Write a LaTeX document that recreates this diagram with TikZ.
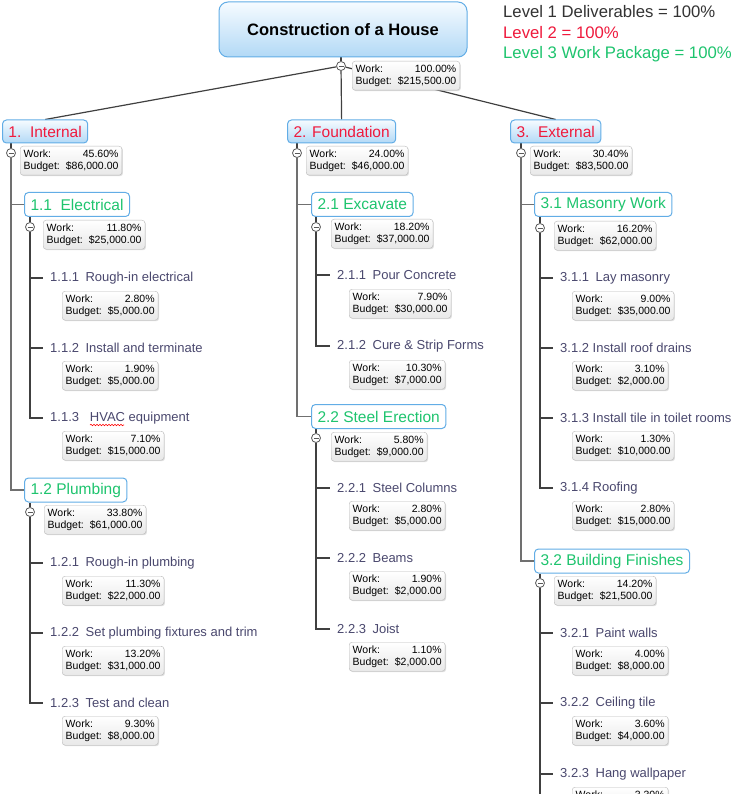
\documentclass[tikz,border=0pt]{standalone}
\usepackage{fontspec}
\setmainfont{Liberation Sans}
\usetikzlibrary{positioning,shadows,backgrounds,decorations.pathmorphing}
\definecolor{boxblue}{HTML}{62ADE6}
\definecolor{skytop}{HTML}{F6FBFF}
\definecolor{skyfill}{HTML}{B2D9F6}
\definecolor{lvlred}{HTML}{EF1A3D}
\definecolor{lvlgreen}{HTML}{1EC46E}
\definecolor{leafgray}{HTML}{4A486E}
\definecolor{linegray}{HTML}{707070}
\newcommand{\wb}[2]{\begin{tabular}{@{}l@{\hspace{6pt}}r@{}}Work: & #1\\Budget: & #2\end{tabular}}

\begin{document}
\begin{tikzpicture}[x=1pt,y=-1pt,
	root node/.style={draw=boxblue,line width=1pt,rounded corners=9pt,top color=skytop,bottom color=skyfill,font=\bfseries\fontsize{16.5}{19}\selectfont},
	level one/.style={draw=boxblue,line width=1pt,rounded corners=4pt,top color=skytop,bottom color=skyfill,text=lvlred,font=\fontsize{15.5}{18}\selectfont,minimum height=23pt,inner xsep=6pt,anchor=west},
	level two/.style={draw=boxblue,line width=1pt,rounded corners=4pt,fill=white,text=lvlgreen,font=\fontsize{15.5}{18}\selectfont,minimum height=24pt,inner xsep=6pt,anchor=west},
	leaf/.style={text=leafgray,font=\fontsize{13}{15}\selectfont,inner xsep=7pt,inner ysep=1pt,anchor=west},
	legend/.style={font=\fontsize{16.7}{20}\selectfont,anchor=west,inner sep=0pt},
	info/.style={draw=gray!55,rounded corners=3pt,top color=white,bottom color=gray!18,font=\fontsize{10.5}{12}\selectfont,inner xsep=3.5pt,inner ysep=2.5pt,anchor=north west,drop shadow={shadow xshift=1pt,shadow yshift=-1pt,opacity=.25}},
	toggle/.style={circle,draw=gray!70!black,fill=white,line width=0.8pt,minimum size=9pt,inner sep=0pt,path picture={\draw[line width=0.8pt] ([xshift=-2.5pt]path picture bounding box.center) -- ([xshift=2.5pt]path picture bounding box.center);}},
	spoke/.style={draw=black!75,line width=1.2pt},
	trunk/.style={draw=linegray,line width=1.8pt},
	branch/.style={draw=black!75,line width=1.5pt}]

	\useasboundingbox (0,0) rectangle (739,794);
	\clip (0,0) rectangle (739,794);

	% root and legend
	\node[root node,minimum width=248pt,minimum height=55pt] (house) at (343,29.5) {Construction of a House};
	\node[legend,text=black!80] (lg1) at (503,12) {Level 1 Deliverables = 100\%};
	\node[legend,text=lvlred] (lg2) at (503,33) {Level 2 = 100\%};
	\node[legend,text=lvlgreen] (lg3) at (503,54) {Level 3 Work Package = 100\%};
	\node[toggle] (c0) at (341,66) {};
	\node[info] (i0) at ([shift={(11,-5)}]c0) {\wb{100.00\%}{\$215,500.00}};

	% level 1
	\node[level one] (int) at (2,131.5) {1.\ \ Internal};
	\node[level one] (fnd) at (287,131.5) {2. Foundation};
	\node[level one] (ext) at (510,131.5) {3.\ \ External};
	\node[toggle] (c1) at (11,153) {};
	\node[toggle] (c2) at (297,153) {};
	\node[toggle] (c3) at (521,153) {};
	\node[info] (i1) at ([shift={(9,-7)}]c1) {\wb{45.60\%}{\$86,000.00}};
	\node[info] (i2) at ([shift={(9,-7)}]c2) {\wb{24.00\%}{\$46,000.00}};
	\node[info] (i3) at ([shift={(9,-7)}]c3) {\wb{30.40\%}{\$83,500.00}};

	% level 2
	\node[level two] (ele) at (24,204.5) {1.1\ \ Electrical};
	\node[level two] (plu) at (24,490) {1.2 Plumbing};
	\node[level two] (exc) at (311,204.5) {2.1 Excavate};
	\node[level two] (ste) at (311,416.5) {2.2 Steel Erection};
	\node[level two] (mas) at (534,204.5) {3.1 Masonry Work};
	\node[level two] (fin) at (534,561) {3.2 Building Finishes};
	\node[toggle] (c11) at (30,227) {};
	\node[toggle] (c12) at (30,512) {};
	\node[toggle] (c21) at (316,227) {};
	\node[toggle] (c22) at (316,438) {};
	\node[toggle] (c31) at (540,228) {};
	\node[toggle] (c32) at (540,583) {};
	\node[info] (i11) at ([shift={(13,-7)}]c11) {\wb{11.80\%}{\$25,000.00}};
	\node[info] (i12) at ([shift={(14,-7)}]c12) {\wb{33.80\%}{\$61,000.00}};
	\node[info] (i21) at ([shift={(15,-8)}]c21) {\wb{18.20\%}{\$37,000.00}};
	\node[info] (i22) at ([shift={(15,-6)}]c22) {\wb{5.80\%}{\$9,000.00}};
	\node[info] (i31) at ([shift={(14,-7)}]c31) {\wb{16.20\%}{\$62,000.00}};
	\node[info] (i32) at ([shift={(14,-7)}]c32) {\wb{14.20\%}{\$21,500.00}};

	% work packages
	\node[leaf] (l111) at (43,278) {1.1.1\enspace Rough-in electrical};
	\node[leaf] (l112) at (43,348) {1.1.2\enspace Install and terminate};
	\node[leaf] (l113) at (43,418) {1.1.3\ \ \ HVAC equipment};
	\node[leaf] (l121) at (43,563) {1.2.1\enspace Rough-in plumbing};
	\node[leaf] (l122) at (43,633) {1.2.2\enspace Set plumbing fixtures and trim};
	\node[leaf] (l123) at (43,703) {1.2.3\enspace Test and clean};
	\node[leaf] (l211) at (330,275) {2.1.1\enspace Pour Concrete};
	\node[leaf] (l212) at (330,346) {2.1.2\enspace Cure \& Strip Forms};
	\node[leaf] (l221) at (330,488) {2.2.1\enspace Steel Columns};
	\node[leaf] (l222) at (330,558) {2.2.2\enspace Beams};
	\node[leaf] (l223) at (330,629) {2.2.3\enspace Joist};
	\node[leaf] (l311) at (553,278) {3.1.1\enspace Lay masonry};
	\node[leaf] (l312) at (553,348) {3.1.2 Install roof drains};
	\node[leaf] (l313) at (553,418) {3.1.3 Install tile in toilet rooms};
	\node[leaf] (l314) at (553,488) {3.1.4 Roofing};
	\node[leaf] (l321) at (553,633) {3.2.1\enspace Paint walls};
	\node[leaf] (l322) at (553,703) {3.2.2\enspace Ceiling tile};
	\node[leaf] (l323) at (553,774) {3.2.3\enspace Hang wallpaper};

	\node[info] (i111) at ([shift={(19,13)}]l111.west) {\wb{2.80\%}{\$5,000.00}};
	\node[info] (i112) at ([shift={(19,13)}]l112.west) {\wb{1.90\%}{\$5,000.00}};
	\node[info] (i113) at ([shift={(19,13)}]l113.west) {\wb{7.10\%}{\$15,000.00}};
	\node[info] (i121) at ([shift={(19,13)}]l121.west) {\wb{11.30\%}{\$22,000.00}};
	\node[info] (i122) at ([shift={(19,13)}]l122.west) {\wb{13.20\%}{\$31,000.00}};
	\node[info] (i123) at ([shift={(19,13)}]l123.west) {\wb{9.30\%}{\$8,000.00}};
	\node[info] (i211) at ([shift={(19,14)}]l211.west) {\wb{7.90\%}{\$30,000.00}};
	\node[info] (i212) at ([shift={(19,14)}]l212.west) {\wb{10.30\%}{\$7,000.00}};
	\node[info] (i221) at ([shift={(19,13)}]l221.west) {\wb{2.80\%}{\$5,000.00}};
	\node[info] (i222) at ([shift={(19,13)}]l222.west) {\wb{1.90\%}{\$2,000.00}};
	\node[info] (i223) at ([shift={(19,13)}]l223.west) {\wb{1.10\%}{\$2,000.00}};
	\node[info] (i311) at ([shift={(19,13)}]l311.west) {\wb{9.00\%}{\$35,000.00}};
	\node[info] (i312) at ([shift={(19,13)}]l312.west) {\wb{3.10\%}{\$2,000.00}};
	\node[info] (i313) at ([shift={(19,13)}]l313.west) {\wb{1.30\%}{\$10,000.00}};
	\node[info] (i314) at ([shift={(19,13)}]l314.west) {\wb{2.80\%}{\$15,000.00}};
	\node[info] (i321) at ([shift={(19,13)}]l321.west) {\wb{4.00\%}{\$8,000.00}};
	\node[info] (i322) at ([shift={(19,13)}]l322.west) {\wb{3.60\%}{\$4,000.00}};
	\node[info] (i323) at ([shift={(19,13)}]l323.west) {\wb{3.30\%}{\$6,500.00}};
	\coordinate (tail) at (540,800);

	% spell-check mark under HVAC
	\draw[red,line width=0.6pt,decorate,decoration={snake,amplitude=0.7pt,segment length=3pt}] ([shift={(47,7)}]l113.west) -- ([shift={(81,7)}]l113.west);

	% connectors, behind the boxes
	\begin{scope}[on background layer]
	\fill[white] (0,0) rectangle (739,794);
	\draw[spoke] (house.south -| c0) -- (c0);
	\draw[spoke] (c0) -- (int.north);
	\draw[spoke] (c0) -- (fnd.north);
	\draw[spoke] (c0) -- (ext.north);
	\draw[spoke] (int.south -| c1) -- (c1);
	\draw[spoke] (fnd.south -| c2) -- (c2);
	\draw[spoke] (ext.south -| c3) -- (c3);
	\draw[trunk] (c1) |- (ele.west);
	\draw[trunk] (c1) |- (plu.west);
	\draw[trunk] (c2) |- (exc.west);
	\draw[trunk] (c2) |- (ste.west);
	\draw[trunk] (c3) |- (mas.west);
	\draw[trunk] (c3) |- (fin.west);
	\draw[spoke] (ele.south -| c11) -- (c11);
	\draw[spoke] (plu.south -| c12) -- (c12);
	\draw[spoke] (exc.south -| c21) -- (c21);
	\draw[spoke] (ste.south -| c22) -- (c22);
	\draw[spoke] (mas.south -| c31) -- (c31);
	\draw[spoke] (fin.south -| c32) -- (c32);
	\draw[branch] (c11) |- (l111.west);
	\draw[branch] (c11) |- (l112.west);
	\draw[branch] (c11) |- (l113.west);
	\draw[branch] (c12) |- (l121.west);
	\draw[branch] (c12) |- (l122.west);
	\draw[branch] (c12) |- (l123.west);
	\draw[branch] (c21) |- (l211.west);
	\draw[branch] (c21) |- (l212.west);
	\draw[branch] (c22) |- (l221.west);
	\draw[branch] (c22) |- (l222.west);
	\draw[branch] (c22) |- (l223.west);
	\draw[branch] (c31) |- (l311.west);
	\draw[branch] (c31) |- (l312.west);
	\draw[branch] (c31) |- (l313.west);
	\draw[branch] (c31) |- (l314.west);
	\draw[branch] (c32) |- (l321.west);
	\draw[branch] (c32) |- (l322.west);
	\draw[branch] (c32) |- (l323.west);
	\draw[branch] (c32) -- (tail);
	\end{scope}
\end{tikzpicture}
\end{document}
